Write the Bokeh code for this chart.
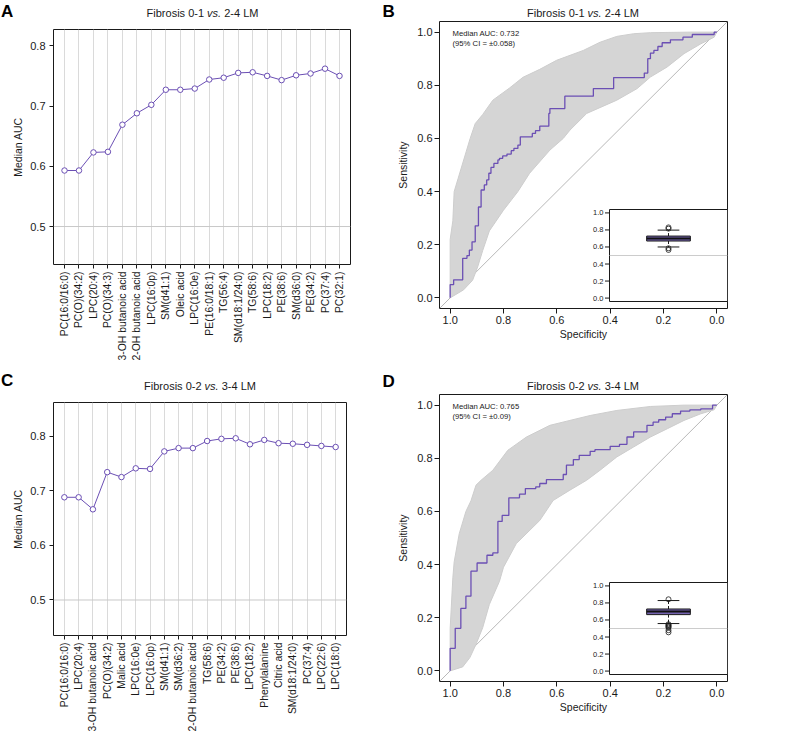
import math
from bokeh.plotting import figure
from bokeh.models import Range1d, FixedTicker, Label, Span, Slope, PrintfTickFormatter
from bokeh.layouts import column, row
from bokeh.embed import file_html
from bokeh.resources import INLINE
from bokeh.core.properties import value

FONT = "Liberation Sans"
TXT = "#1a1a1a"
PURPLE = "#6b4fb4"
BOX_FILL = "#7463b0"
BAND_FILL = "#d5d5d5"
BAND_LINE = "#cdcdcd"

# ---------------- data ----------------
a_features = ["PC(16:0/16:0)", "PC(O)(34:2)", "LPC(20:4)", "PC(O)(34:3)", "3-OH butanoic acid",
              "2-OH butanoic acid", "LPC(16:0p)", "SM(d41:1)", "Oleic acid", "LPC(16:0e)",
              "PE(16:0/18:1)", "TG(56:4)", "SM(d18:1/24:0)", "TG(58:6)", "LPC(18:2)",
              "PE(38:6)", "SM(d36:0)", "PE(34:2)", "PC(37:4)", "PC(32:1)"]
a_median_auc = [0.593, 0.593, 0.623, 0.624, 0.669, 0.688, 0.702, 0.727, 0.727, 0.729,
                0.744, 0.747, 0.755, 0.756, 0.750, 0.743, 0.751, 0.754, 0.762, 0.750]

c_features = ["PC(16:0/16:0)", "LPC(20:4)", "3-OH butanoic acid", "PC(O)(34:2)", "Malic acid",
              "LPC(16:0e)", "LPC(16:0p)", "SM(d41:1)", "SM(d36:2)", "2-OH butanoic acid",
              "TG(58:6)", "PE(34:2)", "PE(38:6)", "LPC(18:2)", "Phenylalanine",
              "Citric acid", "SM(d18:1/24:0)", "PC(37:4)", "LPC(22:6)", "LPC(18:0)"]
c_median_auc = [0.688, 0.688, 0.666, 0.734, 0.725, 0.741, 0.740, 0.772, 0.778, 0.778,
                0.791, 0.795, 0.796, 0.785, 0.793, 0.787, 0.786, 0.784, 0.782, 0.780]

auc_ticks = [0.5, 0.6, 0.7, 0.8]
roc_ticks = [0.0, 0.2, 0.4, 0.6, 0.8, 1.0]

panel_letters = ["A", "B", "C", "D"]
title_row1 = ["Fibrosis 0-1", "vs.", "2-4 LM"]
title_row2 = ["Fibrosis 0-2", "vs.", "3-4 LM"]

# median ROC curves (step points: specificity, sensitivity)
b_median_spec = [1.000, 1.000, 0.987, 0.953, 0.937, 0.928, 0.918, 0.906, 0.894, 0.884,
                 0.872, 0.863, 0.855, 0.847, 0.836, 0.821, 0.815, 0.803, 0.787, 0.771,
                 0.761, 0.746, 0.737, 0.692, 0.680, 0.664, 0.630, 0.626, 0.570, 0.570,
                 0.463, 0.387, 0.272, 0.259, 0.249, 0.236, 0.221, 0.205, 0.174, 0.127,
                 0.092, 0.010, 0.000]
b_median_sens = [0.000, 0.050, 0.068, 0.149, 0.159, 0.180, 0.211, 0.271, 0.342, 0.406,
                 0.425, 0.444, 0.469, 0.491, 0.506, 0.519, 0.525, 0.534, 0.541, 0.554,
                 0.5625, 0.575, 0.606, 0.619, 0.629, 0.646, 0.694, 0.7125, 0.7275, 0.759,
                 0.7875, 0.829, 0.846, 0.900, 0.921, 0.931, 0.946, 0.960, 0.971, 0.981,
                 0.991, 1.000, 1.000]

d_median_spec = [1.0, 1.0, 0.981, 0.960, 0.941, 0.922, 0.899, 0.862, 0.840, 0.821,
                 0.805, 0.780, 0.740, 0.718, 0.679, 0.664, 0.639, 0.576, 0.564, 0.538,
                 0.516, 0.475, 0.457, 0.400, 0.365, 0.337, 0.312, 0.262, 0.239, 0.218,
                 0.192, 0.167, 0.136, 0.101, 0.060, 0.016, 0.0]
d_median_sens = [0.0, 0.085, 0.160, 0.235, 0.281, 0.375, 0.406, 0.435, 0.444, 0.5625,
                 0.585, 0.651, 0.665, 0.686, 0.6925, 0.705, 0.720, 0.739, 0.774, 0.795,
                 0.811, 0.826, 0.8325, 0.845, 0.8525, 0.880, 0.899, 0.924, 0.936, 0.945,
                 0.955, 0.9675, 0.9775, 0.9825, 0.986, 1.0, 1.0]

# envelopes of the bootstrap ROC curves
b_band_hi_spec = [1.0, 0.99, 0.985, 0.97, 0.955, 0.94, 0.925, 0.906, 0.878, 0.84, 0.777,
                  0.727, 0.664, 0.601, 0.501, 0.438, 0.375, 0.312, 0.249, 0.10, 0.0]
b_band_hi_sens = [0.22, 0.29, 0.40, 0.45, 0.50, 0.55, 0.60, 0.656, 0.69, 0.744, 0.79,
                  0.83, 0.86, 0.894, 0.931, 0.962, 0.984, 0.994, 0.998, 1.0, 1.0]
b_band_lo_spec = [1.0, 0.95, 0.916, 0.897, 0.878, 0.853, 0.80, 0.746, 0.702, 0.626, 0.576,
                  0.551, 0.488, 0.375, 0.299, 0.249, 0.186, 0.123, 0.06, 0.01, 0.0]
b_band_lo_sens = [0.0, 0.03, 0.066, 0.116, 0.178, 0.252, 0.33, 0.40, 0.469, 0.556, 0.60,
                  0.631, 0.694, 0.744, 0.7875, 0.831, 0.869, 0.919, 0.956, 0.981, 1.0]

d_band_hi_spec = [1.0, 0.99, 0.985, 0.966, 0.941, 0.922, 0.903, 0.884, 0.84, 0.784, 0.714,
                  0.626, 0.551, 0.475, 0.375, 0.249, 0.123, 0.0]
d_band_hi_sens = [0.16, 0.35, 0.41, 0.516, 0.60, 0.64, 0.699, 0.7175, 0.755, 0.83, 0.88,
                  0.924, 0.9425, 0.961, 0.98, 0.995, 1.0, 1.0]
d_band_lo_spec = [1.0, 0.953, 0.926, 0.903, 0.878, 0.853, 0.815, 0.80, 0.752, 0.664, 0.614,
                  0.551, 0.488, 0.438, 0.375, 0.312, 0.249, 0.186, 0.123, 0.06, 0.01, 0.0]
d_band_lo_sens = [0.0, 0.015, 0.05, 0.10, 0.1625, 0.25, 0.3375, 0.39, 0.479, 0.566, 0.641,
                  0.68, 0.7175, 0.755, 0.805, 0.8425, 0.88, 0.911, 0.9425, 0.9675, 0.9825, 1.0]

# inset boxplots: lower whisker, Q1, median, Q3, upper whisker
b_box_stats = [0.600, 0.670, 0.700, 0.728, 0.798]
b_box_outliers = [0.830, 0.815, 0.585, 0.565]
d_box_stats = [0.558, 0.663, 0.699, 0.729, 0.828]
d_box_outliers = [0.843, 0.550, 0.540, 0.530, 0.520, 0.510, 0.480, 0.455]

b_auc_text = ["Median AUC: 0.732", "(95% CI = \u00b10.058)"]
d_auc_text = ["Median AUC: 0.765", "(95% CI = \u00b10.09)"]

# ---------------- helpers ----------------
AW = {'F': 611, 'i': 222, 'b': 556, 'r': 333, 'o': 556, 's': 500, ' ': 278, '0': 556,
      '1': 556, '2': 556, '3': 556, '4': 556, '-': 333, 'v': 500, '.': 278, 'L': 556, 'M': 833}


def tw(s, size):
    return sum(AW.get(c, 556) for c in s) / 1000.0 * size


def base_fig(fw, fh, bl, br, bt, bb, xr, yr):
    p = figure(frame_width=fw, frame_height=fh, min_border_left=bl, min_border_right=br,
               min_border_top=bt, min_border_bottom=bb, x_range=xr, y_range=yr,
               output_backend="svg", toolbar_location=None, tools="", frame_align=False)
    p.outline_line_color = "#1a1a1a"
    p.outline_line_width = 1
    p.background_fill_color = "white"
    p.border_fill_color = "white"
    for ax in (p.xaxis[0], p.yaxis[0]):
        ax.axis_line_color = None
        ax.major_tick_in = 0
        ax.major_tick_out = 4
        ax.major_tick_line_color = "#1a1a1a"
        ax.minor_tick_line_color = None
        ax.major_label_text_font = FONT
        ax.major_label_text_font_size = "11px"
        ax.major_label_text_color = TXT
        ax.major_label_standoff = 2
        ax.axis_label_text_font = FONT
        ax.axis_label_text_font_size = "10.5px"
        ax.axis_label_text_font_style = "normal"
        ax.axis_label_text_color = TXT
    return p


def auc_panel(features, auc, yr, fw, fh, bl, br, bt, bb):
    n = len(features)
    xs = list(range(1, n + 1))
    p = base_fig(fw, fh, bl, br, bt, bb, Range1d(1 - 0.76, n + 0.76), Range1d(*yr))
    p.xgrid.ticker = FixedTicker(ticks=xs)
    p.xgrid.grid_line_color = "#dadada"
    p.ygrid.grid_line_color = None
    p.xaxis.ticker = FixedTicker(ticks=xs)
    p.xaxis.major_label_overrides = {x: f for x, f in zip(xs, features)}
    p.xaxis.major_label_orientation = math.pi / 2
    p.xaxis.major_label_text_font_size = "10.4px"
    p.xaxis.major_label_standoff = 3
    p.yaxis.ticker = FixedTicker(ticks=auc_ticks)
    p.yaxis.formatter = PrintfTickFormatter(format="%.1f")
    p.yaxis.major_label_standoff = 4
    p.yaxis.axis_label = "Median AUC"
    p.yaxis.axis_label_standoff = 3
    p.add_layout(Span(location=0.5, dimension="width", line_color="#c8c8c8",
                      line_width=1, level="underlay"))
    p.line(xs, auc, line_color=PURPLE, line_width=1)
    p.scatter(xs, auc, marker="circle", size=5.5, fill_color="white",
              line_color=PURPLE, line_width=1)
    return p


def roc_panel(med_spec, med_sens, hi_spec, hi_sens, lo_spec, lo_sens,
              box_stats, outliers, texts, bl, br, bt, bb):
    fw, fh = 288, 287
    p = base_fig(fw, fh, bl, br, bt, bb, Range1d(1.04, -0.04), Range1d(-0.04, 1.04))
    p.grid.grid_line_color = None
    for ax in (p.xaxis[0], p.yaxis[0]):
        ax.ticker = FixedTicker(ticks=roc_ticks)
        ax.formatter = PrintfTickFormatter(format="%.1f")
        ax.major_tick_out = 5
    p.xaxis.axis_label = "Specificity"
    p.yaxis.axis_label = "Sensitivity"
    p.xaxis.axis_label_standoff = 1
    p.yaxis.axis_label_standoff = 5

    p.add_layout(Slope(gradient=-1, y_intercept=1, line_color="#b8b8b8", line_width=1,
                       level="underlay"))
    band_x = list(hi_spec) + list(reversed(lo_spec))
    band_y = list(hi_sens) + list(reversed(lo_sens))
    p.patch(band_x, band_y, fill_color=BAND_FILL, line_color=BAND_LINE, line_width=1)
    p.step(med_spec, med_sens, mode="after", line_color=PURPLE, line_width=1.3)

    # ---- inset boxplot (own ranges mapped into the lower-right corner) ----
    ix0, ix1 = 170.0, float(fw)
    iy0, iy1 = 7.0, 99.0
    ppx = (ix1 - ix0) / 1.0
    ppy = (iy1 - iy0) / 1.08
    p.extra_x_ranges = {"ix": Range1d(0.5 - ix0 / ppx, 0.5 + (fw - ix0) / ppx)}
    p.extra_y_ranges = {"iy": Range1d(-0.04 - iy0 / ppy, -0.04 + (fh - iy0) / ppy)}
    kw = dict(x_range_name="ix", y_range_name="iy")
    p.quad(left=[0.5], right=[1.5], bottom=[-0.04], top=[1.04], fill_color="white",
           line_color="#1a1a1a", line_width=1, **kw)
    p.segment(x0=[0.5], x1=[1.5], y0=[0.5], y1=[0.5], line_color="#cccccc",
              line_width=1, **kw)
    tlen = 4.5 / ppx
    p.segment(x0=[0.5] * len(roc_ticks), x1=[0.5 - tlen] * len(roc_ticks), y0=roc_ticks,
              y1=roc_ticks, line_color="#1a1a1a", line_width=1, **kw)
    p.text(x=[0.5 - 6.0 / ppx] * len(roc_ticks), y=roc_ticks,
           text=["%.1f" % t for t in roc_ticks], text_font=value(FONT),
           text_font_size=value("7.5px"), text_align="right", text_baseline="middle",
           text_color=TXT, **kw)
    lo_w, q1, med, q3, hi_w = box_stats
    hw, cw = 0.185, 0.092
    p.segment(x0=[1, 1], x1=[1, 1], y0=[q3, q1], y1=[hi_w, lo_w], line_color="#1a1a1a",
              line_width=1, line_dash="3 2", **kw)
    p.segment(x0=[1 - cw] * 2, x1=[1 + cw] * 2, y0=[hi_w, lo_w], y1=[hi_w, lo_w],
              line_color="#1a1a1a", line_width=1, **kw)
    p.quad(left=[1 - hw], right=[1 + hw], bottom=[q1], top=[q3], fill_color=BOX_FILL,
           line_color="#1a1a1a", line_width=1, **kw)
    p.segment(x0=[1 - hw], x1=[1 + hw], y0=[med], y1=[med], line_color="#111111",
              line_width=2, **kw)
    p.scatter(x=[1] * len(outliers), y=outliers, marker="circle", size=5,
              fill_color=None, line_color="#1a1a1a", line_width=0.8, **kw)

    for i, t in enumerate(texts):
        p.add_layout(Label(x=13, y=fh - 11.5 - 10 * i, x_units="screen", y_units="screen",
                           text=t, text_font=FONT, text_font_size="7.7px",
                           text_align="left", text_baseline="middle", text_color=TXT))
    return p


def header_fig(width, height, letters, letter_xy, title_parts, title_xy, size=11):
    # a strip whose frame is the whole canvas; y grows downwards (pixels)
    p = figure(frame_width=width, frame_height=height, min_border=0,
               x_range=Range1d(0, width), y_range=Range1d(height, 0),
               x_axis_location=None, y_axis_location=None, output_backend="svg",
               toolbar_location=None, tools="", frame_align=False)
    p.outline_line_color = None
    p.grid.visible = False
    p.background_fill_color = "white"
    p.border_fill_color = "white"
    for letter, (x, y) in zip(letters, letter_xy):
        p.add_layout(Label(x=x, y=y, text=letter, text_font=FONT, text_font_size="17px",
                           text_font_style="bold", text_align="left",
                           text_baseline="middle", text_color="black"))
    w = [tw(s, size) for s in title_parts]
    sp = tw(" ", size)
    total = w[0] + sp + w[1] + sp + w[2]
    for cx, y in title_xy:
        x0 = cx - total / 2.0
        xs = [x0, x0 + w[0] + sp, x0 + w[0] + sp + w[1] + sp]
        for s, x, st in zip(title_parts, xs, ["normal", "italic", "normal"]):
            p.add_layout(Label(x=x, y=y, text=s, text_font=FONT,
                               text_font_size=f"{size}px", text_font_style=st,
                               text_align="left", text_baseline="middle",
                               text_color=TXT))
    return p


# page starts at y = 0; rows: header1 0-21, panels A/B 21-370, header2 370-392, C/D 392-
pA = auc_panel(a_features, a_median_auc, (0.437, 0.827), 297, 235, 53, 32, 8, 106)
pB = roc_panel(b_median_spec, b_median_sens, b_band_hi_spec, b_band_hi_sens,
               b_band_lo_spec, b_band_lo_sens, b_box_stats, b_box_outliers, b_auc_text,
               57, 40, 0, 62)
pC = auc_panel(c_features, c_median_auc, (0.435, 0.8615), 293, 233, 53, 36, 10, 98)
pD = roc_panel(d_median_spec, d_median_sens, d_band_hi_spec, d_band_hi_sens,
               d_band_lo_spec, d_band_lo_sens, d_box_stats, d_box_outliers, d_auc_text,
               57, 40, 2, 52)

head1 = header_fig(767, 21, panel_letters[0:2], [(0.5, 11.2), (382, 11.0)],
                   title_row1, [(202, 12.7), (582.5, 12.6)])
head2 = header_fig(767, 22, panel_letters[2:4], [(0.5, 10.0), (382, 10.8)],
                   title_row2, [(199.5, 15.0), (582.5, 15.0)])

layout = column(head1, row(pA, pB), head2, row(pC, pD))
open("out.html", "w").write(file_html(layout, INLINE, title="Median AUC and ROC curves"))
